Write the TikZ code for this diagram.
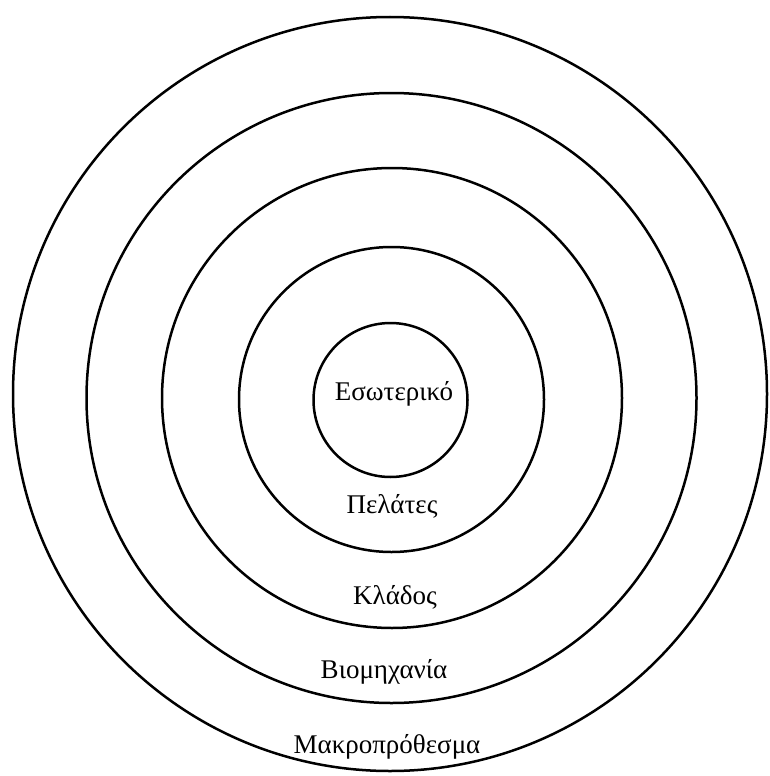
\documentclass[tikz,border=0pt]{standalone}
\usepackage{fontspec}
\setmainfont{Liberation Serif}
\begin{document}
\begin{tikzpicture}[x=1pt,y=-1pt,
  ring/.style={circle,draw=black,line width=2.5pt,inner sep=0pt,fill=none},
  lbl/.style={font=\fontsize{27}{32}\selectfont,inner sep=0pt,anchor=center}]
\useasboundingbox (0,0) rectangle (769,776);
\node[ring,minimum size=754pt] (c5) at (390,394) {};
\node[ring,minimum size=610pt] (c4) at (391.5,398) {};
\node[ring,minimum size=460pt] (c3) at (392,398) {};
\node[ring,minimum size=305pt] (c2) at (391.5,399.5) {};
\node[ring,minimum size=154pt] (c1) at (390.5,400) {};
\node[lbl] (t1) at (394,394) {Εσωτερικό};
\node[lbl] (t2) at (392,506) {Πελάτες};
\node[lbl] (t3) at (395,597) {Κλάδος};
\node[lbl] (t4) at (384,672) {Βιομηχανία};
\node[lbl] (t5) at (387,747) {Μακροπρόθεσμα};
\end{tikzpicture}
\end{document}
